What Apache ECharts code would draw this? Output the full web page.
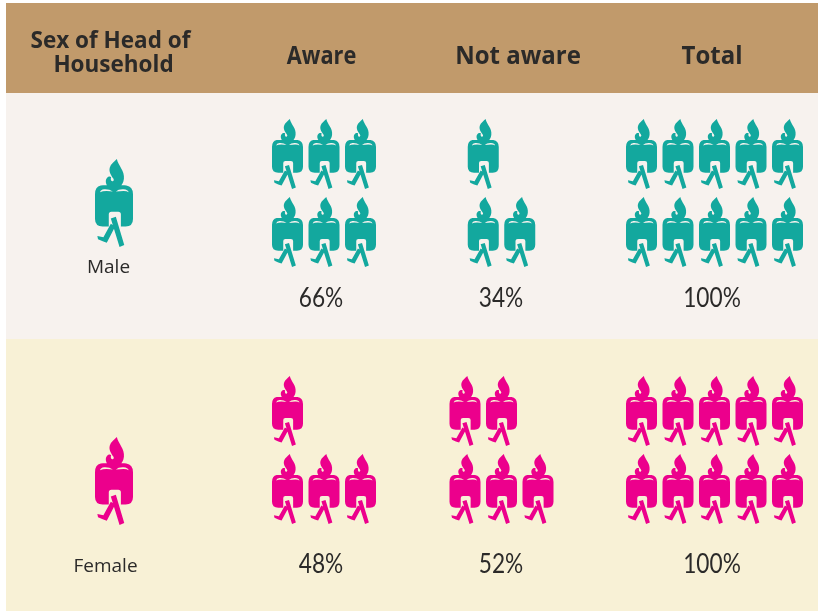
<!DOCTYPE html>
<html><head><meta charset="utf-8">
<style>html,body{margin:0;padding:0;background:#fff}#c{width:818px;height:611px}</style>
<script src="https://cdn.jsdelivr.net/npm/echarts@6/dist/echarts.min.js"></script>
</head><body><div id="c"></div>
<script>
const headerTitle = ['Sex of Head of', 'Household'];
const columns = ['Aware', 'Not aware', 'Total'];
const sexes = ['Male', 'Female'];
const malePercents = ['66%', '34%', '100%'];
const femalePercents = ['48%', '52%', '100%'];
// icons per row, top row then bottom row, per column
const maleIcons = [[3, 3], [1, 2], [5, 5]];
const femaleIcons = [[1, 3], [2, 3], [5, 5]];

const ICON = 'path://M122 104 C140 102 150 104 162 108 C172 104 185 102 198 104 Q218 107 218 130 L218 204 Q218 226 196 226 L182 226 L182 190 Q182 182 174 182 L154 182 Q146 182 146 190 L146 226 L128 226 Q105 226 105 204 L105 130 Q105 107 122 104 Z ' +
 'M120 124 Q130 119 150 121 L158 122 Q148 114 132 115 Q122 116 120 124 Z ' +
 'M205 124 Q203 116 190 115 Q175 114 167 122 Q180 120 190 120 Q200 120 205 124 Z ' +
 'M170 25 C174 45 194 60 191 84 C190 96 184 104 178 110 L146 110 C138 102 134 90 140 82 C143 77 150 76 153 79 C151 84 152 90 156 91 C160 92 162 88 160 84 C154 74 145 64 149 50 C152 40 162 33 170 25 Z ' +
 'M152 202 L167 197 L192 281 L178 287 Z ' +
 'M152 218 L165 226 L140 274 L128 270 L114 264 L112 254 L130 258 Z';

const colCentres = [324, 501.5, 714.5];
const labelX = [321, 501, 712];
const headerX = [321.5, 518, 712];
const headerScale = [0.87, 0.96, 0.96];
const PITCH = 36.5, ICON_W = 31, ICON_H = 70, ROW_PITCH = 78;
const rowsLayout = [
  {colour: '#13a89e', icons: maleIcons, percents: malePercents, top: 154, bigY: 203, label: sexes[0], labelX: 108.5, labelY: 268, pctY: 298},
  {colour: '#ec008c', icons: femaleIcons, percents: femalePercents, top: 411, bigY: 481, label: sexes[1], labelX: 105.5, labelY: 567, pctY: 564}
];

const series = [];
const texts = [];
const txt = (s, x, y, font, w, sx, fam) => texts.push({type: 'text', z: 5, x, y, scaleX: sx || 1,
  style: {text: s, x: 0, y: 0, align: 'center', verticalAlign: 'middle', fill: '#2b2a29', fontFamily: fam || '"Open Sans"', fontSize: font, fontWeight: w || 400}});

rowsLayout.forEach(r => {
  const pts = [];
  r.icons.forEach((rows, c) => {
    const widest = Math.max(...rows);
    const start = colCentres[c] - (widest - 1) * PITCH / 2;
    rows.forEach((n, ri) => {
      for (let i = 0; i < n; i++) pts.push([start + i * PITCH, r.top + ri * ROW_PITCH]);
    });
    txt(r.percents[c], labelX[c], r.pctY, 27, 400, 0.84, 'Lato');
  });
  series.push({type: 'scatter', silent: true, symbol: ICON, symbolSize: [ICON_W, ICON_H], symbolKeepAspect: false,
    itemStyle: {color: r.colour, opacity: 1}, data: pts});
  series.push({type: 'scatter', silent: true, symbol: ICON, symbolSize: [38, 88], symbolKeepAspect: false,
    itemStyle: {color: r.colour, opacity: 1}, data: [[114, r.bigY]]});
  txt(r.label, r.labelX, r.labelY, 19, 400, 1);
});
txt(headerTitle[0], 110.5, 42, 22.5, 700);
txt(headerTitle[1], 113.5, 66, 22.5, 700);
columns.forEach((c, i) => txt(c, headerX[i], 57, 25, 700, headerScale[i]));

const rect = (x, y, w, h, fill) => ({type: 'rect', z: 0, shape: {x, y, width: w, height: h}, style: {fill}});
const chart = echarts.init(document.getElementById('c'));
chart.setOption({
  animation: false,
  backgroundColor: '#ffffff',
  grid: {left: 0, right: 0, top: 0, bottom: 0},
  xAxis: {type: 'value', min: 0, max: 818, show: false},
  yAxis: {type: 'value', min: 0, max: 611, inverse: true, show: false},
  graphic: {elements: [
    rect(6, 3, 812, 90, '#c19a6b'),
    rect(6, 93, 812, 246, '#f7f2ee'),
    rect(6, 339, 812, 272, '#f8f1d6'),
    ...texts
  ]},
  series
});
</script></body></html>
